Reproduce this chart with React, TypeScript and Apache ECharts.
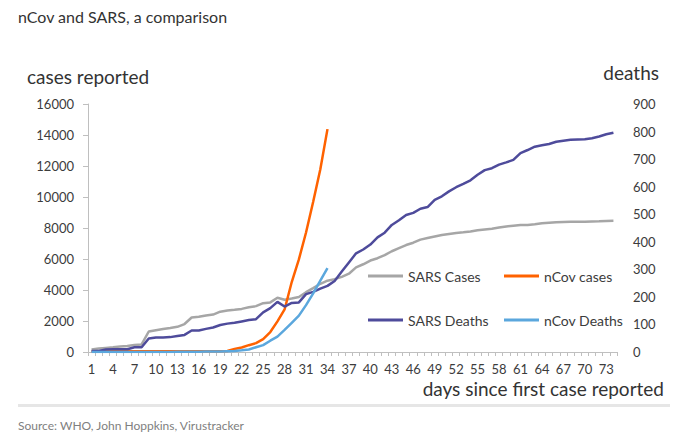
import { useEffect, useRef } from "react";
import * as echarts from "echarts";

const days = Array.from({ length: 74 }, (_, i) => String(i + 1));

const sarsCases = [
  167, 219, 264, 306, 350, 386, 456, 487,
  1323, 1408, 1485, 1550, 1622, 1804, 2223, 2270, 2353, 2416, 2601, 2671,
  2722, 2781, 2890, 2960, 3150,
  3200, 3500, 3370, 3450, 3550,
  3860, 4120, 4400, 4600, 4700,
  4850, 5050, 5460, 5660, 5900,
  6050, 6250, 6500, 6700, 6900,
  7050, 7250, 7350, 7450, 7550,
  7620, 7680, 7720, 7770, 7850,
  7900, 7950, 8030, 8100, 8150,
  8200, 8200, 8240, 8300, 8340,
  8370, 8390, 8400, 8400, 8410,
  8420, 8430, 8450, 8460,
];

const sarsDeaths = [
  4, 4, 9, 10, 10, 10, 17, 17,
  49, 53, 53, 54, 58, 62, 78, 78, 84, 89, 98, 103,
  106, 111, 116, 119, 144,
  159, 182, 165, 178, 180,
  210, 218, 230, 240, 258,
  292, 325, 358, 372, 390,
  416, 433, 461, 478, 497,
  505, 520, 526, 552, 565,
  583, 598, 610, 623, 643,
  660, 667, 680, 688, 697,
  722, 733, 745, 750, 755,
  763, 767, 770, 771, 772,
  776, 782, 790, 796,
];

const ncovCases = [
  41, 41, 41, 41, 41, 41, 41, 41, 41, 41,
  41, 41, 41, 41, 41, 41, 41, 41, 41,
  62, 198, 291, 440, 571, 830, 1287, 1975, 2744, 4515, 5974, 7711, 9692, 11791, 14380,
];

const ncovDeaths = [
  0, 0, 0, 0, 0, 0, 0, 0, 0, 0,
  0, 0, 1, 1, 1, 1, 2, 2, 2,
  3, 4, 6, 9, 17, 25, 41, 56, 80, 106, 132, 170, 213, 259, 304,
];

const leftTicks = { min: 0, max: 16000, interval: 2000 };
const rightTicks = { min: 0, max: 900, interval: 100 };

const FONT = "Lato, 'Noto Sans', sans-serif";
const TEXT = "#3c3c3c";
const AXIS = "#bfbfbf";

export default function App() {
  const ref = useRef<HTMLDivElement>(null);
  useEffect(() => {
    const chart = echarts.init(ref.current!, null, { renderer: "svg" });
    const legendBase = {
      icon: "rect",
      itemWidth: 35,
      itemHeight: 3,
      itemGap: 0,
      padding: 0,
      selectedMode: false,
      textStyle: { color: TEXT, fontSize: 14, fontFamily: FONT },
    };
    chart.setOption({
      animation: false,
      backgroundColor: "#ffffff",
      textStyle: { fontFamily: FONT },
      grid: { left: 88, right: 70, top: 104, bottom: 88, containLabel: false },
      legend: [
        { ...legendBase, data: ["SARS Cases"], left: 368, top: 269 },
        { ...legendBase, data: ["nCov cases"], left: 504, top: 269 },
        { ...legendBase, data: ["SARS Deaths"], left: 368, top: 313 },
        { ...legendBase, data: ["nCov Deaths"], left: 504, top: 313 },
      ],
      xAxis: {
        type: "category",
        data: days,
        boundaryGap: true,
        axisLine: { show: true, lineStyle: { color: AXIS, width: 1 } },
        axisTick: { show: true, interval: 0, length: 4, lineStyle: { color: AXIS } },
        axisLabel: { interval: 2, color: TEXT, fontSize: 13, fontFamily: FONT, margin: 10 },
        splitLine: { show: false },
      },
      yAxis: [
        {
          type: "value",
          position: "left",
          ...leftTicks,
          axisLine: { show: true, lineStyle: { color: AXIS } },
          axisTick: { show: true, length: 5, lineStyle: { color: AXIS } },
          axisLabel: {
            color: TEXT,
            fontSize: 13,
            fontFamily: FONT,
            margin: 14,
            formatter: (v: number) => String(v),
          },
          splitLine: { show: false },
        },
        {
          type: "value",
          position: "right",
          ...rightTicks,
          axisLine: { show: false },
          axisTick: { show: false },
          axisLabel: {
            color: TEXT,
            fontSize: 13,
            fontFamily: FONT,
            margin: 16,
            formatter: (v: number) => String(v),
          },
          splitLine: { show: false },
        },
      ],
      series: [
        {
          name: "SARS Cases",
          type: "line",
          yAxisIndex: 0,
          data: sarsCases,
          symbol: "none",
          color: "#a6a6a6",
          lineStyle: { width: 2.5, color: "#a6a6a6" },
          z: 2,
        },
        {
          name: "nCov cases",
          type: "line",
          yAxisIndex: 0,
          data: ncovCases,
          symbol: "none",
          color: "#ff6200",
          lineStyle: { width: 2.5, color: "#ff6200" },
          z: 3,
        },
        {
          name: "SARS Deaths",
          type: "line",
          yAxisIndex: 1,
          data: sarsDeaths,
          symbol: "none",
          color: "#4e4b9b",
          lineStyle: { width: 2.5, color: "#4e4b9b" },
          z: 4,
        },
        {
          name: "nCov Deaths",
          type: "line",
          yAxisIndex: 1,
          data: ncovDeaths,
          symbol: "none",
          color: "#5ba7dd",
          lineStyle: { width: 2.5, color: "#5ba7dd" },
          z: 5,
        },
      ],
      graphic: [
        {
          type: "text",
          x: 18,
          y: 16,
          style: { text: "nCov and SARS, a comparison", font: `16px ${FONT}`, fill: "#333333", textVerticalAlign: "middle" },
        },
        {
          type: "text",
          x: 27,
          y: 76,
          style: { text: "cases reported", font: `19px ${FONT}`, fill: "#333333", textVerticalAlign: "middle" },
        },
        {
          type: "text",
          x: 659,
          y: 72,
          style: { text: "deaths", font: `19px ${FONT}`, fill: "#333333", textAlign: "right", textVerticalAlign: "middle" },
        },
        {
          type: "text",
          x: 664,
          y: 388,
          style: { text: "days since first case reported", font: `19px ${FONT}`, fill: "#333333", textAlign: "right", textVerticalAlign: "middle" },
        },
        {
          type: "rect",
          shape: { x: 18, y: 404, width: 652, height: 3 },
          style: { fill: "#e6e6e6" },
        },
        {
          type: "text",
          x: 18,
          y: 425,
          style: { text: "Source: WHO, John Hoppkins, Virustracker", font: `12px ${FONT}`, fill: "#808080", textVerticalAlign: "middle" },
        },
      ],
    });
    return () => chart.dispose();
  }, []);
  return <div ref={ref} style={{ position: "fixed", left: 0, top: 0, width: 687, height: 440 }} />;
}
